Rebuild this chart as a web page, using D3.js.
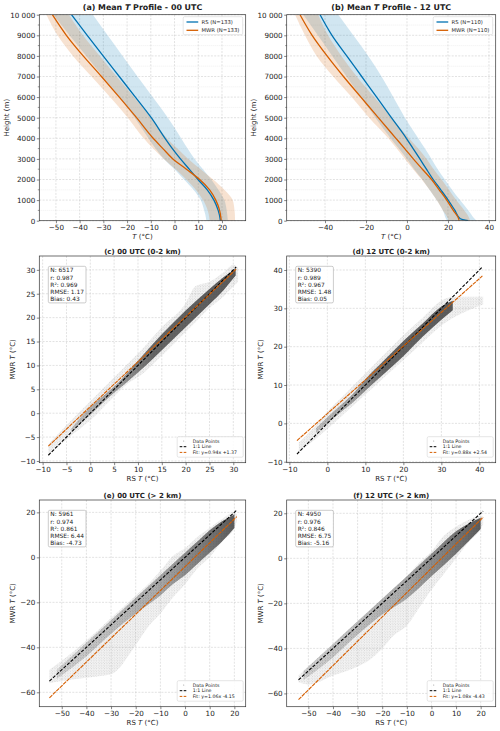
<!DOCTYPE html>
<html>
<head>
<meta charset="utf-8">
<title>MWR vs RS temperature</title>
<script src="https://d3js.org/d3.v7.min.js"></script>
<style>
  body { margin: 0; background: #fff; }
  text { font-family: "DejaVu Sans", sans-serif; fill: #222; }
</style>
</head>
<body>
<script>

// ---------- profile data (height in m, temperature in degC) ----------
var heights = [0, 100, 500, 1000, 1500, 2000, 2500, 3000, 3500, 4000, 5000, 6000, 7000, 8000, 9000, 10000];

var rs00Mean  = [19.3, 19.2, 18.4, 16.6, 13.8, 9.9, 6.2, 2.5, -0.9, -4.0, -9.8, -16.5, -23.3, -30.1, -36.8, -43.4];
var rs00Lo    = [13.4, 13.3, 12.5, 11.0, 8.0, 4.0, 0.0, -4.5, -8.0, -11.0, -16.8, -23.3, -30.3, -37.2, -44.3, -51.0];
var rs00Hi    = [22.5, 22.4, 22.0, 21.0, 18.5, 15.5, 12.0, 8.5, 5.5, 2.8, -2.8, -9.2, -15.6, -21.9, -28.2, -34.4];
var mwr00Mean = [19.7, 19.6, 19.0, 17.4, 14.8, 10.6, 5.0, -0.7, -4.9, -9.0, -16.0, -23.3, -30.8, -38.5, -45.6, -51.5];
var mwr00Lo   = [14.8, 14.7, 14.0, 12.0, 9.0, 5.0, 0.5, -4.5, -9.0, -13.0, -19.7, -27.2, -35.0, -42.8, -49.3, -54.0];
var mwr00Hi   = [25.5, 25.5, 25.3, 24.5, 21.0, 16.3, 11.0, 5.8, 1.2, -3.2, -9.9, -17.1, -24.4, -31.5, -38.6, -44.5];

var rs12Mean  = [29.9, 26.0, 23.4, 20.1, 16.5, 12.8, 9.5, 6.3, 3.0, -0.3, -7.6, -14.8, -22.1, -29.4, -36.6, -42.4];
var rs12Lo    = [19.5, 19.0, 17.5, 14.5, 11.0, 7.5, 3.5, 0.0, -4.0, -8.0, -15.4, -22.5, -29.5, -36.5, -43.5, -50.6];
var rs12Hi    = [34.0, 33.0, 30.0, 25.9, 22.0, 18.5, 15.0, 12.0, 8.8, 5.5, -1.0, -6.7, -12.4, -18.9, -26.2, -33.5];
var mwr12Mean = [25.4, 25.2, 22.6, 19.4, 15.7, 12.0, 7.5, 3.1, -1.1, -5.4, -14.0, -22.5, -31.0, -39.0, -46.3, -52.2];
var mwr12Lo   = [20.2, 20.0, 17.5, 14.5, 11.0, 7.2, 3.0, -1.0, -5.0, -9.1, -18.5, -27.0, -36.0, -44.1, -49.8, -54.6];
var mwr12Hi   = [30.7, 30.5, 28.0, 24.0, 20.5, 16.9, 13.0, 9.6, 5.5, 1.0, -7.5, -16.0, -24.5, -32.0, -38.5, -43.3];

// ---------- scatter clouds: outer (sparse) and core (dense) envelopes, RS T vs MWR T ----------
var c_outerX  = [-8.8, -5, 0, 5, 8, 10, 15, 20, 22, 25, 28, 30, 31];
var c_outerLo = [-8.8, -5.5, -1.5, 3.5, 6.3, 7.5, 12, 17, 19, 22, 24.5, 26.5, 27.5];
var c_outerHi = [-6.5, -2.5, 2.5, 7.5, 10.5, 12.5, 18, 23, 26.5, 27.5, 29.5, 31, 30.5];
var c_coreX   = [-4, 0, 5, 7, 10, 15, 20, 25, 28, 30.5];
var c_coreLo  = [-4, -0.3, 4.3, 5.9, 8.5, 13.2, 18, 22.8, 25.8, 28.8];
var c_coreHi  = [-3.2, 1.3, 5.6, 7.6, 11, 16.5, 21.5, 26, 28.5, 30.3];

var d_outerX  = [-7.5, -3, 0, 5, 10, 15, 20, 25, 30, 33, 36, 41];
var d_outerLo = [-7.5, -4, -1.5, 3, 7.5, 12, 16.5, 21, 25.5, 27.5, 29, 31];
var d_outerHi = [-5, -0.5, 3, 8, 13, 18, 23, 27.5, 32, 33, 33, 33];
var d_coreX   = [-3, 0, 4, 7, 10, 15, 20, 25, 30, 33];
var d_coreLo  = [-2.5, 0, 3.3, 5.7, 8.5, 13, 17.5, 22.5, 27, 29.5];
var d_coreHi  = [-1.3, 1.6, 5.2, 8, 11.5, 16.5, 21.5, 26, 30.5, 32];

var e_outerX  = [-55, -50, -40, -30, -20, -15, -10, -5, 0, 5, 10, 15, 20, 21];
var e_outerLo = [-56, -55, -53.5, -52, -39, -31, -25, -18, -12, -5, 0, 7, 13, 16];
var e_outerHi = [-50, -46, -37, -27, -17, -12, -6, 0.5, 4, 9, 13, 17, 20, 19];
var e_coreX   = [-52, -40, -30, -20, -10, -5, 0, 5, 10, 15, 20];
var e_coreLo  = [-54, -44, -34, -25, -17, -12, -8, -3, 2, 7, 13];
var e_coreHi  = [-50, -38, -28, -18, -8, -3, 2, 7, 12, 16, 19];

var f_outerX  = [-54, -50, -40, -30, -25, -20, -15, -10, -5, 0, 5, 10, 15, 20, 21];
var f_outerLo = [-55, -56, -52, -48, -45, -40, -34, -30, -22, -14, -7, 0, 7, 13, 15];
var f_outerHi = [-52, -48, -38, -28, -23, -18, -13, -8, -2, 3, 10, 14, 17, 19, 18];
var f_coreX   = [-52, -40, -30, -20, -10, 0, 10, 20];
var f_coreLo  = [-54, -44, -34, -25, -18, -8, 2, 13];
var f_coreHi  = [-50, -38, -28, -18, -8, 2, 12, 18];

// fit lines (slope, intercept) and RS range they span
var fitSlope = [0.94, 0.88, 1.06, 1.08];
var fitIntercept = [1.37, 2.54, -4.15, -4.43];
var fitRange = [[-8.8, 30.6], [-8.0, 40.8], [-55, 21], [-54, 21]];

// stats boxes
var statN    = ["6517", "5390", "5961", "4950"];
var statR    = ["0.987", "0.989", "0.974", "0.976"];
var statR2   = ["0.969", "0.967", "0.861", "0.846"];
var statRMSE = ["1.17", "1.48", "6.44", "6.75"];
var statBias = ["0.43", "0.05", "-4.73", "-5.16"];

// ticks
var ticksA = [-50, -40, -30, -20, -10, 0, 10, 20];
var ticksB = [-40, -20, 0, 20, 40];
var ticksH = [0, 1000, 2000, 3000, 4000, 5000, 6000, 7000, 8000, 9000, 10000];
var ticksC = [-10, -5, 0, 5, 10, 15, 20, 25, 30];
var ticksD = [-10, 0, 10, 20, 30, 40];
var ticksEx = [-50, -40, -30, -20, -10, 0, 10, 20];
var ticksEy = [-60, -40, -20, 0, 20];

var blue = "#0072b2", orange = "#d55e00";

// ---------- drawing ----------
var svg = d3.select("body").append("svg").attr("width", 500).attr("height", 731);
var defs = svg.append("defs");

var pat = defs.append("pattern").attr("id", "dots")
    .attr("patternUnits", "userSpaceOnUse").attr("width", 2.6).attr("height", 2.6);
pat.append("circle").attr("cx", 0.6).attr("cy", 0.7).attr("r", 0.38).attr("fill", "#666");
pat.append("circle").attr("cx", 1.9).attr("cy", 1.9).attr("r", 0.38).attr("fill", "#888");

function gradient(id, stops) {
  var gr = defs.append("linearGradient").attr("id", id)
      .attr("x1", "0%").attr("x2", "100%").attr("y1", "0%").attr("y2", "0%");
  stops.forEach(function(s) {
    gr.append("stop").attr("offset", s[0]).attr("stop-color", "#333").attr("stop-opacity", s[1]);
  });
}
gradient("gradLow", [["0%", 0.25], ["30%", 0.45], ["50%", 0.75], ["100%", 0.8]]);
gradient("gradHigh", [["0%", 0.15], ["55%", 0.35], ["100%", 0.8]]);

function fmt(v) {
  if (v === 10000) return "10 000";
  return d3.format("d")(v);
}

function writeParts(sel, parts) {
  parts.forEach(function(p) {
    sel.append("tspan").text(p[0]).style("font-style", p[1] ? "italic" : "normal");
  });
}

function panel(p) {
  var g = svg.append("g");
  var x = d3.scaleLinear().domain(p.xd).range([p.left, p.right]);
  var y = d3.scaleLinear().domain(p.yd).range([p.bottom, p.top]);

  defs.append("clipPath").attr("id", "clip" + p.id).append("rect")
      .attr("x", p.left).attr("y", p.top)
      .attr("width", p.right - p.left).attr("height", p.bottom - p.top);

  // minor grid (profiles only)
  if (p.yMinor) {
    g.selectAll(".mg").data(p.yMinor).enter().append("line")
        .attr("x1", p.left).attr("x2", p.right)
        .attr("y1", function(d) { return y(d); }).attr("y2", function(d) { return y(d); })
        .attr("stroke", "#d8d8d8").attr("stroke-width", 0.4).attr("stroke-dasharray", "1,1");
  }
  // major grid
  g.selectAll(".gx").data(p.xt).enter().append("line")
      .attr("x1", function(d) { return x(d); }).attr("x2", function(d) { return x(d); })
      .attr("y1", p.top).attr("y2", p.bottom)
      .attr("stroke", "#c4c4c4").attr("stroke-width", 0.5).attr("stroke-dasharray", "2,1.3");
  g.selectAll(".gy").data(p.yt).enter().append("line")
      .attr("x1", p.left).attr("x2", p.right)
      .attr("y1", function(d) { return y(d); }).attr("y2", function(d) { return y(d); })
      .attr("stroke", "#c4c4c4").attr("stroke-width", 0.5).attr("stroke-dasharray", "2,1.3");

  var plot = g.append("g").attr("clip-path", "url(#clip" + p.id + ")");

  // axes
  var ax = g.append("g").attr("transform", "translate(0," + p.bottom + ")")
      .call(d3.axisBottom(x).tickValues(p.xt).tickSize(2.5).tickPadding(1.5).tickFormat(fmt));
  var ay = g.append("g").attr("transform", "translate(" + p.left + ",0)")
      .call(d3.axisLeft(y).tickValues(p.yt).tickSize(2.5).tickPadding(1.5).tickFormat(fmt));
  [ax, ay].forEach(function(a) {
    a.select(".domain").remove();
    a.selectAll("line").attr("stroke", "#333").attr("stroke-width", 0.6);
    a.selectAll("text").attr("font-size", 7.2).attr("fill", "#222")
        .attr("font-family", "DejaVu Sans");
  });
  if (p.yMinor) {
    g.selectAll(".mt").data(p.yMinor).enter().append("line")
        .attr("x1", p.left - 1.5).attr("x2", p.left)
        .attr("y1", function(d) { return y(d); }).attr("y2", function(d) { return y(d); })
        .attr("stroke", "#333").attr("stroke-width", 0.5);
  }

  g.append("rect").attr("x", p.left).attr("y", p.top)
      .attr("width", p.right - p.left).attr("height", p.bottom - p.top)
      .attr("fill", "none").attr("stroke", "#333").attr("stroke-width", 0.7);

  // labels
  var t = g.append("text").attr("x", (p.left + p.right) / 2).attr("y", p.top - p.titleGap)
      .attr("text-anchor", "middle").attr("font-size", p.titleSize).attr("font-weight", "bold");
  writeParts(t, p.title);
  var xl = g.append("text").attr("x", (p.left + p.right) / 2).attr("y", p.bottom + 18)
      .attr("text-anchor", "middle").attr("font-size", 7);
  writeParts(xl, p.xlabel);
  var yl = g.append("text")
      .attr("transform", "translate(" + p.ylx + "," + ((p.top + p.bottom) / 2) + ") rotate(-90)")
      .attr("text-anchor", "middle").attr("font-size", 7);
  writeParts(yl, p.ylabel);

  return { g: g, plot: plot, x: x, y: y, p: p };
}

function profile(pn, rsM, rsL, rsH, mwM, mwL, mwH, nObs) {
  var x = pn.x, y = pn.y;
  var idx = d3.range(heights.length);
  var band = function(lo, hi) {
    return d3.area().curve(d3.curveMonotoneY)
        .y(function(i) { return y(heights[i]); })
        .x0(function(i) { return x(lo[i]); })
        .x1(function(i) { return x(hi[i]); });
  };
  var line = function(m) {
    return d3.line().curve(d3.curveMonotoneY)
        .y(function(i) { return y(heights[i]); })
        .x(function(i) { return x(m[i]); });
  };
  pn.plot.append("path").datum(idx).attr("d", band(rsL, rsH)).attr("fill", blue).attr("fill-opacity", 0.18);
  pn.plot.append("path").datum(idx).attr("d", band(mwL, mwH)).attr("fill", orange).attr("fill-opacity", 0.18);
  pn.plot.append("path").datum(idx).attr("d", line(rsM)).attr("fill", "none").attr("stroke", blue).attr("stroke-width", 1.3);
  pn.plot.append("path").datum(idx).attr("d", line(mwM)).attr("fill", "none").attr("stroke", orange).attr("stroke-width", 1.3);

  // legend
  var p = pn.p, w = 59.5, h = 18, lx = p.right - 3 - w, ly = p.top + 2;
  var lg = pn.g.append("g");
  lg.append("rect").attr("x", lx).attr("y", ly).attr("width", w).attr("height", h).attr("rx", 1.5)
      .attr("fill", "#fff").attr("fill-opacity", 0.85).attr("stroke", "#ccc").attr("stroke-width", 0.5);
  [["RS (N=" + nObs + ")", blue], ["MWR (N=" + nObs + ")", orange]].forEach(function(e, i) {
    var yy = ly + 5.3 + i * 8.3;
    lg.append("line").attr("x1", lx + 3.3).attr("x2", lx + 15).attr("y1", yy).attr("y2", yy)
        .attr("stroke", e[1]).attr("stroke-width", 1.3);
    lg.append("text").attr("x", lx + 18.3).attr("y", yy + 1.9).attr("font-size", 5.3).text(e[0]);
  });
}

function scatter(pn, k, oX, oL, oH, cX, cL, cH, coreFill) {
  var x = pn.x, y = pn.y;
  var env = function(xs, lo, hi) {
    return d3.area().curve(d3.curveMonotoneX)
        .x(function(i) { return x(xs[i]); })
        .y0(function(i) { return y(lo[i]); })
        .y1(function(i) { return y(hi[i]); })(d3.range(xs.length));
  };
  pn.plot.append("path").attr("d", env(oX, oL, oH)).attr("fill", "#999").attr("fill-opacity", 0.12);
  pn.plot.append("path").attr("d", env(oX, oL, oH)).attr("fill", "url(#dots)").attr("opacity", 0.55);
  pn.plot.append("path").attr("d", env(cX, cL, cH)).attr("fill", coreFill);
  pn.plot.append("path").attr("d", env(cX, cL, cH)).attr("fill", "url(#dots)").attr("opacity", 0.6);

  var r = fitRange[k];
  pn.plot.append("line").attr("x1", x(r[0])).attr("y1", y(r[0])).attr("x2", x(r[1])).attr("y2", y(r[1]))
      .attr("stroke", "#000").attr("stroke-width", 1.1).attr("stroke-dasharray", "3.2,1.6");
  pn.plot.append("line")
      .attr("x1", x(r[0])).attr("y1", y(fitSlope[k] * r[0] + fitIntercept[k]))
      .attr("x2", x(r[1])).attr("y2", y(fitSlope[k] * r[1] + fitIntercept[k]))
      .attr("stroke", orange).attr("stroke-width", 1.1).attr("stroke-dasharray", "4,0.8");

  var p = pn.p;
  // stats box
  var sx = p.left + 9, sy = p.top + 10.3;
  var sb = pn.g.append("g");
  sb.append("rect").attr("x", sx).attr("y", sy).attr("width", 37.7).attr("height", 36.6).attr("rx", 1.5)
      .attr("fill", "#fff").attr("fill-opacity", 0.85).attr("stroke", "#aaa").attr("stroke-width", 0.6);
  ["N: " + statN[k], "r: " + statR[k], "R\u00b2: " + statR2[k], "RMSE: " + statRMSE[k], "Bias: " + statBias[k]]
    .forEach(function(s, i) {
      sb.append("text").attr("x", sx + 2).attr("y", sy + 6.1 + i * 7.2).attr("font-size", 5.9).text(s);
    });

  // legend
  var w = 66, h = 20.5, lx = p.right - 2.5 - w, ly = p.bottom - 26;
  var lg = pn.g.append("g");
  lg.append("rect").attr("x", lx).attr("y", ly).attr("width", w).attr("height", h).attr("rx", 1.5)
      .attr("fill", "#fff").attr("fill-opacity", 0.85).attr("stroke", "#ccc").attr("stroke-width", 0.5);
  var fitTxt = "Fit: y=" + fitSlope[k].toFixed(2) + "x " + (fitIntercept[k] >= 0 ? "+" : "") + fitIntercept[k].toFixed(2);
  var rows = ["Data Points", "1:1 Line", fitTxt];
  rows.forEach(function(s, i) {
    var yy = ly + 4.3 + i * 5.7;
    if (i === 0) {
      lg.append("circle").attr("cx", lx + 6.5).attr("cy", yy).attr("r", 0.55).attr("fill", "#999");
    } else {
      lg.append("line").attr("x1", lx + 2.5).attr("x2", lx + 10.5).attr("y1", yy).attr("y2", yy)
          .attr("stroke", i === 1 ? "#000" : orange).attr("stroke-width", 1).attr("stroke-dasharray", "2.6,1.4");
    }
    lg.append("text").attr("x", lx + 15.5).attr("y", yy + 1.6).attr("font-size", 4.7).text(s);
  });
}

var Tlabel = [["", false], ["T", true], [" (\u00b0C)", false]];
var rsLabel = [["RS ", false], ["T", true], [" (\u00b0C)", false]];
var mwrLabel = [["MWR ", false], ["T", true], [" (\u00b0C)", false]];
var hLabel = [["Height (m)", false]];
var minorH = [500, 1500, 2500, 3500, 4500, 5500, 6500, 7500, 8500, 9500];

var pa = panel({ id: "a", left: 39.3, right: 245.7, top: 14.7, bottom: 220.7, xd: [-57, 30], yd: [0, 10000],
  xt: ticksA, yt: ticksH, yMinor: minorH, ylx: 8.5, titleSize: 7.9, titleGap: 4.3,
  title: [["(a) Mean ", false], ["T", true], [" Profile - 00 UTC", false]], xlabel: Tlabel, ylabel: hLabel });
profile(pa, rs00Mean, rs00Lo, rs00Hi, mwr00Mean, mwr00Lo, mwr00Hi, 133);

var pb = panel({ id: "b", left: 286.7, right: 495.7, top: 14.7, bottom: 220.7, xd: [-58.7, 43.3], yd: [0, 10000],
  xt: ticksB, yt: ticksH, yMinor: minorH, ylx: 256, titleSize: 7.9, titleGap: 4.3,
  title: [["(b) Mean ", false], ["T", true], [" Profile - 12 UTC", false]], xlabel: Tlabel, ylabel: hLabel });
profile(pb, rs12Mean, rs12Lo, rs12Hi, mwr12Mean, mwr12Lo, mwr12Hi, 110);

var pc = panel({ id: "c", left: 39.3, right: 245.7, top: 256, bottom: 462.7, xd: [-10.7, 32.6], yd: [-10.36, 32.9],
  xt: ticksC, yt: ticksC, ylx: 15, titleSize: 7, titleGap: 2.2,
  title: [["(c) 00 UTC (0-2 km)", false]], xlabel: rsLabel, ylabel: mwrLabel });
scatter(pc, 0, c_outerX, c_outerLo, c_outerHi, c_coreX, c_coreLo, c_coreHi, "url(#gradLow)");

var pd = panel({ id: "d", left: 286.7, right: 495.7, top: 256, bottom: 462.7, xd: [-10.7, 44.3], yd: [-10.26, 43.65],
  xt: ticksD, yt: ticksD, ylx: 263.3, titleSize: 7, titleGap: 2.2,
  title: [["(d) 12 UTC (0-2 km)", false]], xlabel: rsLabel, ylabel: mwrLabel });
scatter(pd, 1, d_outerX, d_outerLo, d_outerHi, d_coreX, d_coreLo, d_coreHi, "url(#gradLow)");

var pe = panel({ id: "e", left: 39.3, right: 245.7, top: 500, bottom: 706.7, xd: [-59.1, 24.6], yd: [-66.4, 25.5],
  xt: ticksEx, yt: ticksEy, ylx: 15, titleSize: 7, titleGap: 2.5,
  title: [["(e) 00 UTC (> 2 km)", false]], xlabel: rsLabel, ylabel: mwrLabel });
scatter(pe, 2, e_outerX, e_outerLo, e_outerHi, e_coreX, e_coreLo, e_coreHi, "url(#gradHigh)");

var pf = panel({ id: "f", left: 286.7, right: 495.7, top: 500, bottom: 706.7, xd: [-58.8, 26.1], yd: [-65.9, 25.9],
  xt: ticksEx, yt: ticksEy, ylx: 263.3, titleSize: 7, titleGap: 2.5,
  title: [["(f) 12 UTC (> 2 km)", false]], xlabel: rsLabel, ylabel: mwrLabel });
scatter(pf, 3, f_outerX, f_outerLo, f_outerHi, f_coreX, f_coreLo, f_coreHi, "url(#gradHigh)");

</script>
</body>
</html>
